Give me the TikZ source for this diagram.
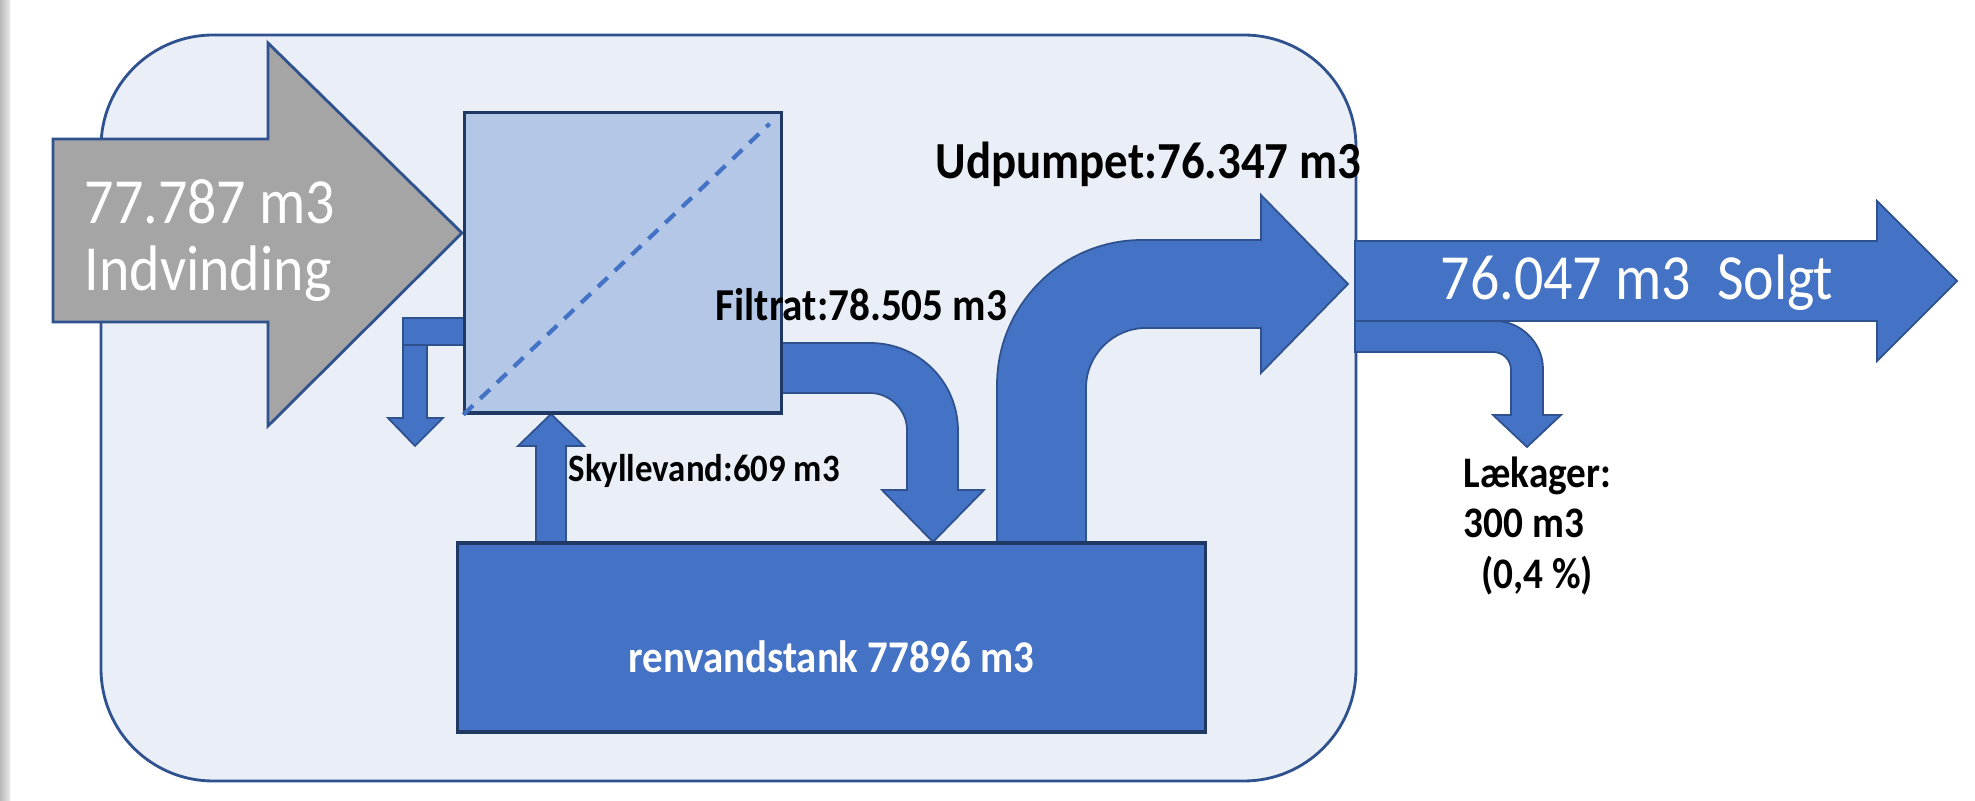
\documentclass[tikz,border=0pt]{standalone}
\usepackage{fontspec}
\setmainfont{Carlito}[FakeStretch=0.9]
\definecolor{panelfill}{RGB}{233,238,247}
\definecolor{panelline}{RGB}{47,82,143}
\definecolor{intakegray}{RGB}{165,165,165}
\definecolor{filterfill}{RGB}{180,199,231}
\definecolor{darknavy}{RGB}{32,56,100}
\definecolor{flowblue}{RGB}{68,114,196}
\usetikzlibrary{calc}

\begin{document}
\begin{tikzpicture}[x=0.01cm, y=-0.01cm,
  flowshape/.style={fill=flowblue, draw=panelline, line width=0.5pt},
  unitbox/.style={draw=darknavy, line width=0.9pt, inner sep=0pt},
  flowlabel/.style={font=\bfseries\fontsize{13}{15}\selectfont, inner sep=0pt}]
  % page
  \useasboundingbox (0,0) rectangle (1975,801);
  \fill[white] (0,0) rectangle (1975,801);
  \shade[left color=black!28, right color=black!8] (0,0) rectangle (10,801);

  % plant outline
  \draw[fill=panelfill, draw=panelline, line width=0.8pt, rounded corners=1.12cm] (101,35) rectangle (1356,781);

  % intake
  \draw[fill=intakegray, draw=panelline, line width=0.8pt] (53,139) -- (268,139) -- (268,43) -- (462,233) -- (268,426) -- (268,322) -- (53,322) -- cycle;
  \node[anchor=north west, align=left, text=white, inner sep=0pt, font=\fontsize{18.3}{19}\selectfont] (intake) at (84,179) {77.787 m3\\Indvinding};

  % flows round the filter and the tank
  \draw[flowshape] (775,343) -- (870,343) .. controls (919,343) and (958,382) .. (958,431) -- (958,490) -- (984,490) -- (933,542) -- (882,490) -- (907,490) -- (907,430) .. controls (907,410) and (890,393) .. (870,393) -- (775,393) -- cycle;
  \draw[flowshape] (997,548) -- (997,385) .. controls (997,305) and (1062,240) .. (1142,240) -- (1261,240) -- (1261,195) -- (1348,284) -- (1261,373) -- (1261,328) -- (1146,328) .. controls (1113,328) and (1086,355) .. (1086,388) -- (1086,548) -- cycle;
  \draw[flowshape] (536,548) -- (536,446) -- (518,446) -- (551,414) -- (584,446) -- (566,446) -- (566,548) -- cycle;
  \draw[flowshape] (403,345) -- (403,418) -- (388,418) -- (415,446) -- (443,418) -- (427,418) -- (427,345) -- cycle;
  \draw[flowshape] (403,318) rectangle (470,345);

  % filter and tank
  \node[unitbox, fill=filterfill, minimum width=3.16cm, minimum height=3cm] (filter) at (623,263) {};
  \draw[flowblue, line width=1.2pt, dash pattern=on 3.8pt off 2.8pt, shorten >=0.18cm] (filter.south west) -- (filter.north east);
  \node[unitbox, fill=flowblue, minimum width=7.47cm, minimum height=1.89cm, text=white, text height=0.7cm, text depth=0pt, font=\bfseries\fontsize{12.9}{15}\selectfont] (tank) at (831.5,637.5) {renvandstank 77896 m3};

  % out of the plant
  \draw[flowshape] (1355,321) -- (1495,321) .. controls (1521,321) and (1543,343) .. (1543,369) -- (1543,415) -- (1561,415) -- (1527,447) -- (1493,415) -- (1511,415) -- (1511,370) .. controls (1511,360) and (1503,352) .. (1493,352) -- (1355,352) -- cycle;
  \draw[flowshape] (1355,241) -- (1877,241) -- (1877,201) -- (1957,281) -- (1877,361) -- (1877,321) -- (1355,321) -- cycle;
  \node[anchor=base west, text=white, inner sep=0pt, font=\fontsize{18.3}{19}\selectfont] (solgt) at (1440,300) {76.047 m3\ \ Solgt};

  % labels
  \node[flowlabel, anchor=base west, font=\bfseries\fontsize{14.8}{17}\selectfont] (udpumplbl) at (935,179) {Udpumpet:76.347 m3};
  \node[flowlabel, anchor=base west] (filtratlbl) at (715,321) {Filtrat:78.505 m3};
  \node[flowlabel, anchor=base west, font=\bfseries\fontsize{11}{13}\selectfont] (skyllelbl) at (568,482) {Skyllevand:609 m3};
  \node[flowlabel, anchor=north west, align=left, font=\bfseries\fontsize{12.4}{14.4}\selectfont] (laekagelbl) at (1463,456) {Lækager:\\300 m3\\\hspace*{5pt}(0,4 \%)};
\end{tikzpicture}
\end{document}
